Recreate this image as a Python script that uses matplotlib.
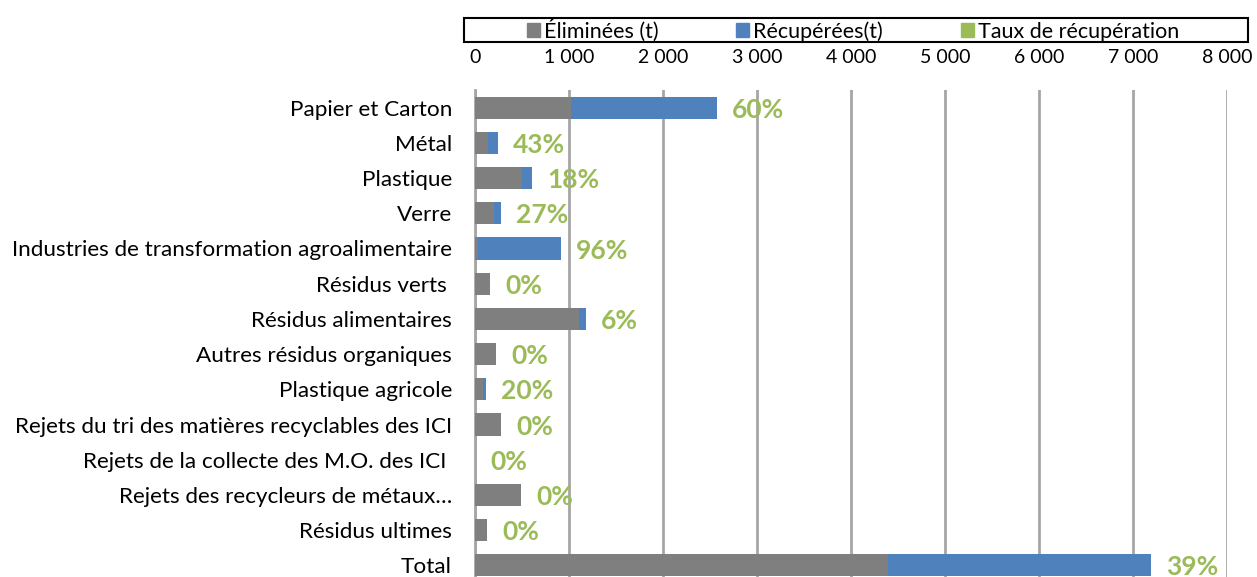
import numpy as np
import matplotlib.pyplot as plt
from matplotlib.patches import Patch, Rectangle

# Data
categories = [
    'Papier et Carton', 'Métal', 'Plastique', 'Verre',
    'Industries de transformation agroalimentaire', 'Résidus verts ',
    'Résidus alimentaires', 'Autres résidus organiques', 'Plastique agricole',
    'Rejets du tri des matières recyclables des ICI',
    'Rejets de la collecte des M.O. des ICI ',
    'Rejets des recycleurs de métaux…', 'Résidus ultimes', 'Total',
]
eliminees = [1020, 140, 500, 202, 35, 160, 1110, 225, 90, 273, 0, 490, 130, 4390]
recuperees = [1555, 105, 107, 75, 880, 0, 70, 0, 22, 0, 0, 0, 0, 2800]
taux = ['60%', '43%', '18%', '27%', '96%', '0%', '6%', '0%', '20%',
        '0%', '0%', '0%', '0%', '39%']
xticks = [0, 1000, 2000, 3000, 4000, 5000, 6000, 7000, 8000]

GRAY = '#7F7F7F'
BLUE = '#4F81BD'
GREEN = '#9BBB59'
GRID = '#A6A6A6'

plt.rcParams['font.family'] = ['Lato', 'DejaVu Sans']

fig = plt.figure(figsize=(12.57, 5.77), dpi=100)
ax = fig.add_axes([475 / 1257, -6 / 577, 752 / 1257, 493 / 577])

y = np.arange(len(categories))
ax.barh(y, eliminees, height=0.63, color=GRAY, zorder=3)
ax.barh(y, recuperees, left=eliminees, height=0.63, color=BLUE, zorder=3)

for yi, e, r, t in zip(y, eliminees, recuperees, taux):
    ax.annotate(t, (e + r, yi), xytext=(11, -1.5), textcoords='offset points',
                ha='left', va='center', color=GREEN, fontsize=19,
                fontweight='bold', zorder=4)

ax.set_xlim(0, 8000)
ax.set_ylim(len(categories) - 0.5, -0.5)
ax.set_yticks(y)
ax.set_yticklabels(categories, fontsize=16.2)
ax.set_xticks(xticks)
ax.set_xticklabels([f'{v:,}'.replace(',', ' ') for v in xticks], fontsize=14)
ax.xaxis.tick_top()
ax.tick_params(axis='both', length=0)
ax.tick_params(axis='x', pad=17)
ax.tick_params(axis='y', pad=16.5)
ax.grid(axis='x', color=GRID, linewidth=2, zorder=0)
for s in ['top', 'right', 'bottom']:
    ax.spines[s].set_visible(False)
ax.spines['left'].set_color(GRID)
ax.spines['left'].set_linewidth(2)

# legend box drawn separately so entries can sit centred inside it
fig.patches.append(Rectangle((464 / 1257, 1 - 42 / 577), 784 / 1257, 24 / 577,
                             transform=fig.transFigure, fill=False,
                             edgecolor='black', linewidth=1.5))
handles = [Patch(color=GRAY), Patch(color=BLUE), Patch(color=GREEN)]
labels = ['Éliminées (t)', 'Récupérées(t)', 'Taux de récupération']
fig.legend(handles, labels, ncol=3, loc='center',
           bbox_to_anchor=(853 / 1257, 1 - 30 / 577),
           fontsize=15.5, frameon=False,
           handlelength=0.6, handleheight=0.6, handletextpad=0.2,
           columnspacing=3.6, borderpad=0.0, borderaxespad=0)

fig.savefig('out.png', dpi=100)
